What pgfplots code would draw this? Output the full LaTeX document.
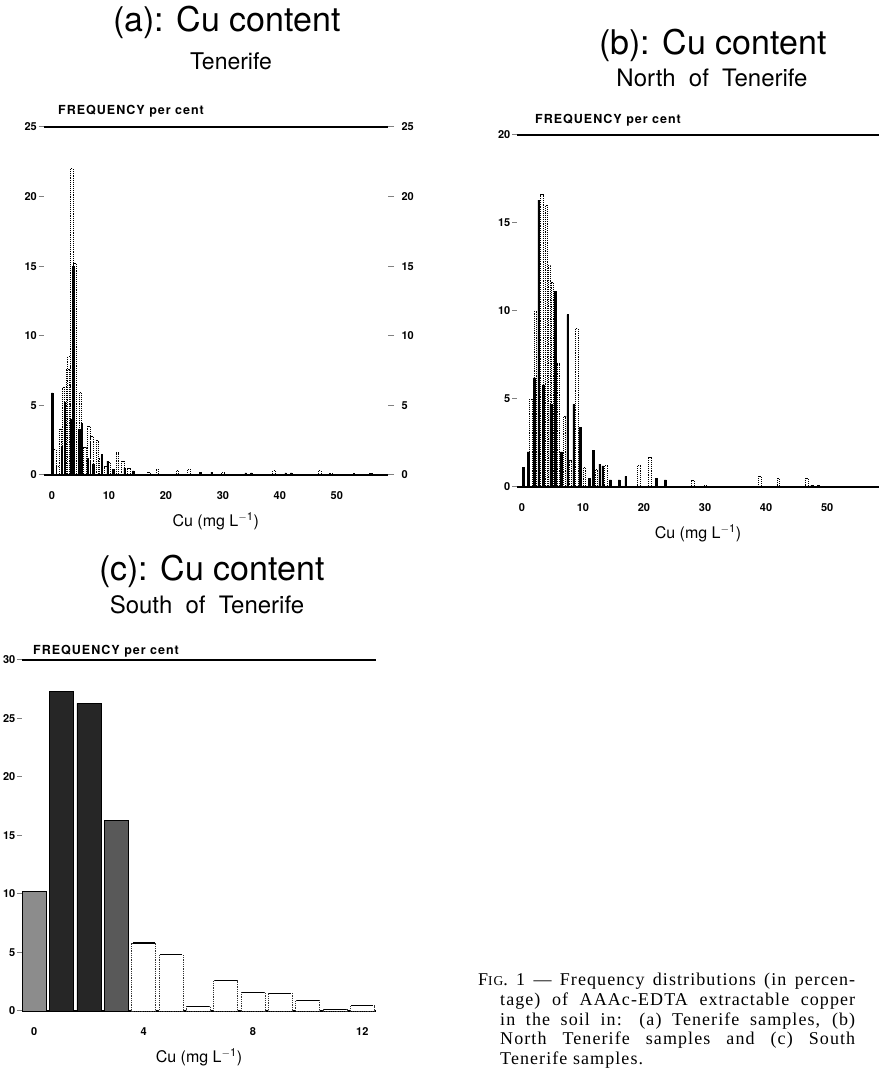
\documentclass[border=0pt]{standalone}
\usepackage{fontspec}
\setmainfont{TeX Gyre Heros}
\newfontfamily\capfont[LetterSpace=6]{Liberation Serif}
\newfontfamily\freqfont[LetterSpace=8]{TeX Gyre Heros}
\usepackage{pgfplots}
\pgfplotsset{compat=1.18}
\pgfplotsset{
  histo/.style={
    scale only axis,
    anchor=south west,
    separate axis lines,
    y axis line style={draw=none},
    x axis line style={line width=1.3pt},
    ytick pos=left,
    xtick pos=bottom,
    tick align=outside,
    major tick length=5pt,
    ytick style={line width=1pt},
    xtick style={draw=none},
    tick label style={font=\fontsize{11}{12}\selectfont\bfseries},
    yticklabel style={inner sep=1.5pt},
    /pgf/number format/assume math mode=true,
    ymin=0,
    xlabel={Cu (mg L\textsuperscript{$-$1})},
    xlabel style={font=\fontsize{16}{18}\selectfont, at={(axis description cs:0.5,0)}, anchor=center, yshift=-46pt},
    xticklabel style={yshift=-8pt},
    clip=false,
  },
  blackbar/.style={ybar, bar shift=0pt, fill=black, draw=black, line width=0.5pt},
  dotbar/.style={ybar, bar shift=0pt, fill=none, draw=black, densely dotted, line width=0.9pt},
}
\newcommand{\wsp}{\hspace{0.55em}}
\begin{document}
\begin{tikzpicture}
\useasboundingbox (0,0) rectangle (881pt,1071pt);
% ---------- titles ----------
\node[anchor=base] at (227pt,1039pt) {\fontsize{34}{38}\selectfont (a): Cu content};
\node[anchor=base] at (231pt,1001pt) {\fontsize{23}{26}\selectfont Tenerife};
\node[anchor=base] at (713pt,1016pt) {\fontsize{34}{38}\selectfont (b): Cu content};
\node[anchor=base] at (712pt,984pt) {\fontsize{24}{27}\selectfont North\wsp of\wsp Tenerife};
\node[anchor=base] at (212pt,490pt) {\fontsize{34}{38}\selectfont (c): Cu content};
\node[anchor=base] at (207pt,457pt) {\fontsize{24}{27}\selectfont South\wsp of\wsp Tenerife};
\node[anchor=base west, inner sep=0pt] at (58pt,956pt) {\freqfont\fontsize{12.5}{14}\selectfont\bfseries FREQUENCY per cent};
\node[anchor=base west, inner sep=0pt] at (535pt,947pt) {\freqfont\fontsize{12.5}{14}\selectfont\bfseries FREQUENCY per cent};
\node[anchor=base west, inner sep=0pt] at (33pt,416pt) {\freqfont\fontsize{12.5}{14}\selectfont\bfseries FREQUENCY per cent};

% ---------- (a) ----------
\begin{axis}[histo, at={(43.5pt,596pt)}, width=344.5pt, height=348pt,
  xmin=-1.5, xmax=59, ymax=25, xtick={0,10,...,50}, ytick={0,5,...,25}]
\addplot[blackbar, bar width=0.25] coordinates {
 (0,5.9) (1.75,2.0) (2.25,5.2) (3.25,4.0) (3.75,15.0) (4.75,3.3) (5.25,3.7)
 (6.25,1.2) (7.25,0.8) (8.75,1.5) (9.75,1.0) (10.75,0.4) (12.75,0.5) (14.25,0.3)
 (26,0.2) (28,0.2) (34,0.15) (35,0.15) (41,0.15) (42,0.15) (53,0.1)};
\addplot[dotbar, bar width=0.45] coordinates {
 (0.5,1.8) (1.0,0.6) (1.5,3.3) (2.0,6.3) (2.75,7.6) (3.0,8.5) (3.5,22.0) (4.0,15.2)
 (5.0,5.9) (5.75,2.0) (6.5,3.5) (7.0,2.8) (8.0,2.5) (8.5,1.2) (9.5,0.6) (10.0,0.9)
 (11.5,1.6) (12.5,1.0) (13.5,0.5) (17,0.2) (18.5,0.4) (22,0.3) (24,0.4) (30,0.15)
 (39,0.3) (47,0.3) (49,0.1) (56,0.1)};
\end{axis}
\begin{axis}[scale only axis, anchor=south west, at={(43.5pt,596pt)}, width=344.5pt, height=348pt,
  xmin=-1.5, xmax=59, ymin=0, ymax=25, hide x axis, axis y line*=right,
  y axis line style={draw=none}, ytick={0,5,...,25}, tick align=outside,
  major tick length=6pt, ytick style={line width=1pt},
  tick label style={font=\fontsize{11}{12}\selectfont\bfseries},
  yticklabel style={xshift=4pt},
  /pgf/number format/assume math mode=true]
\addplot[draw=none] coordinates {(0,0) (50,0)};
\end{axis}

% ---------- (b) ----------
\begin{axis}[histo, at={(517pt,584pt)}, width=362pt, height=352pt,
  xmin=-0.8, xmax=58.5, ymax=20, xtick={0,10,...,50}, ytick={0,5,...,20}]
\addplot[blackbar, bar width=0.3] coordinates {
 (0.25,1.1) (1.0,2.0) (2.0,6.2) (2.75,16.3) (3.5,5.8) (4.75,4.7) (5.5,11.1) (6.5,2.0)
 (7.5,9.8) (8.5,4.7) (9.5,3.4) (11.0,0.5) (11.75,2.1) (12.75,1.3) (13.25,1.2)
 (14.5,0.4) (15.9,0.4) (17.0,0.6) (22.0,0.5) (23.5,0.4) (47.5,0.1) (48.5,0.1)};
\addplot[dotbar, bar width=0.4] coordinates {
 (1.5,5.0) (2.25,10.0) (3.25,16.6) (4.0,16.0) (4.5,12.6) (5.0,11.6) (6.0,7.0) (7.0,4.0)
 (8.0,1.5) (9.0,9.0) (10.25,1.1) (12.25,1.0) (13.75,1.2) (19.2,1.2) (21.0,1.7)
 (28.0,0.4) (30,0.1) (39.0,0.6) (42.0,0.5) (46.7,0.5)};
\end{axis}

% ---------- (c) ----------
\begin{axis}[histo, at={(22pt,60pt)}, width=354pt, height=351pt,
  xmin=-0.45, xmax=12.5, ymax=30, xtick={0,4,8,12}, ytick={0,5,...,30}]
\addplot[ybar, bar shift=0pt, bar width=0.88, fill=black!45, draw=black, line width=0.8pt]
  coordinates {(0,10.2)};
\addplot[ybar, bar shift=0pt, bar width=0.88, fill=black!85, draw=black, line width=0.8pt]
  coordinates {(1,27.3) (2,26.3)};
\addplot[ybar, bar shift=0pt, bar width=0.88, fill=black!65, draw=black, line width=0.8pt]
  coordinates {(3,16.3)};
\addplot[ybar, bar shift=0pt, bar width=0.88, fill=white, draw=black!80, densely dotted, line width=0.8pt]
  coordinates {(4,5.8) (5,4.8) (6,0.4) (7,2.6) (8,1.6) (9,1.5) (10,0.9) (11,0.1) (12,0.45)};
\addplot[draw=none, mark=none, error bars/.cd, x dir=both, x fixed=0.4, error mark=none,
  error bar style={line width=1.3pt, solid, black}]
  coordinates {(4,5.8) (5,4.8) (6,0.4) (7,2.6) (8,1.6) (9,1.5) (10,0.9) (11,0.1) (12,0.45)};
\end{axis}

% ---------- caption ----------
\node[anchor=base west, inner sep=0pt] at (478pt,85pt) {%
\begin{minipage}[t]{377pt}\capfont\fontsize{18}{19.6}\selectfont
\emergencystretch=3em\hangindent=22pt\hangafter=1\noindent
F{\fontsize{13.5}{19.6}\selectfont IG}. 1 — Frequency distributions (in percen-\linebreak
tage) of AAAc-EDTA extractable copper\linebreak
in the soil in: (a) Tenerife samples, (b)\linebreak
North Tenerife samples and (c) South\linebreak
Tenerife samples.
\end{minipage}};
\end{tikzpicture}
\end{document}
